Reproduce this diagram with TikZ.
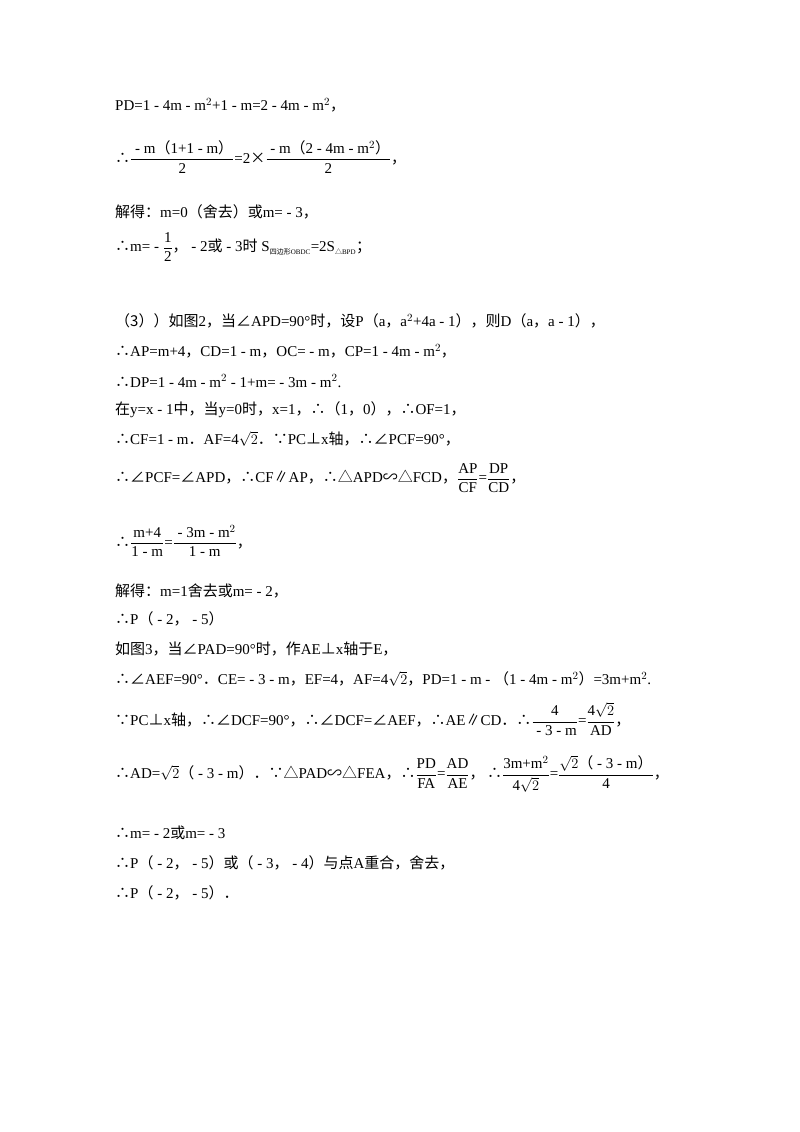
\documentclass[tikz,border=0pt]{standalone}
\usepackage{amsmath}
\usepackage{fontspec}
\setmainfont{Liberation Serif}
\newfontfamily\cjk{Noto Sans CJK SC}
\newcommand\zh[1]{{\cjk #1}}
\newcommand\sq{\ensuremath{\sqrt{2}}}
\begin{document}
\begin{tikzpicture}[x=1pt,y=-1pt,
  ln/.style={anchor=west,inner sep=0pt,font=\fontsize{15}{17}\selectfont}]
\useasboundingbox (0,0) rectangle (800,1132);
\node[ln] (l1) at (115,105) {PD=1 - 4m - m$^2$+1 - m=2 - 4m - m$^2$\zh{，}};
\node[ln] (l2) at (115,157) {\zh{∴}$\dfrac{\mbox{ - m\zh{（}1+1 - m\zh{）}}}{\mbox{2}}$=2\zh{×}$\dfrac{\mbox{ - m\zh{（}2 - 4m - m$^2$\zh{）}}}{\mbox{2}}$\zh{，}};
\node[ln] (l3) at (115,212) {\zh{解得：}m=0\zh{（舍去）或}m= - 3\zh{，}};
\node[ln] (l4) at (115,247) {\zh{∴}m= - $\dfrac{\mbox{1}}{\mbox{2}}$\zh{，} - 2\zh{或} - 3\zh{时} S$_{\mbox{\scriptsize\zh{四边形}OBDC}}$=2S$_{\mbox{\scriptsize\zh{△}BPD}}$\zh{；}};
\node[ln] (l5) at (115,321) {\zh{（3））如图}2\zh{，当∠}APD=90°\zh{时，设}P\zh{（}a\zh{，}a$^2$+4a - 1\zh{），则}D\zh{（}a\zh{，}a - 1\zh{），}};
\node[ln] (l6) at (115,351) {\zh{∴}AP=m+4\zh{，}CD=1 - m\zh{，}OC= - m\zh{，}CP=1 - 4m - m$^2$\zh{，}};
\node[ln] (l7) at (115,381) {\zh{∴}DP=1 - 4m - m$^2$ - 1+m= - 3m - m$^2$.};
\node[ln] (l8) at (115,410) {\zh{在}y=x - 1\zh{中，当}y=0\zh{时，}x=1\zh{，∴（}1\zh{，}0\zh{），∴}OF=1\zh{，}};
\node[ln] (l9) at (115,439) {\zh{∴}CF=1 - m\zh{．}AF=4\sq\zh{．∵}PC\zh{⊥}x\zh{轴，∴∠}PCF=90°\zh{，}};
\node[ln] (l10) at (115,478) {\zh{∴∠}PCF=\zh{∠}APD\zh{，∴}CF\zh{∥}AP\zh{，∴△}APD\zh{∽△}FCD\zh{，}$\dfrac{\mbox{AP}}{\mbox{CF}}$=$\dfrac{\mbox{DP}}{\mbox{CD}}$\zh{，}};
\node[ln] (l11) at (115,541) {\zh{∴}$\dfrac{\mbox{m+4}}{\mbox{1 - m}}$=$\dfrac{\mbox{ - 3m - m$^2$}}{\mbox{1 - m}}$\zh{，}};
\node[ln] (l12) at (115,591) {\zh{解得：}m=1\zh{舍去或}m= - 2\zh{，}};
\node[ln] (l13) at (115,619) {\zh{∴}P\zh{（} - 2\zh{，} - 5\zh{）}};
\node[ln] (l14) at (115,649) {\zh{如图}3\zh{，当∠}PAD=90°\zh{时，作}AE\zh{⊥}x\zh{轴于}E\zh{，}};
\node[ln] (l15) at (115,679) {\zh{∴∠}AEF=90°\zh{．}CE= - 3 - m\zh{，}EF=4\zh{，}AF=4\sq\zh{，}PD=1 - m - \zh{（}1 - 4m - m$^2$\zh{）}=3m+m$^2$.};
\node[ln] (l16) at (115,719) {\zh{∵}PC\zh{⊥}x\zh{轴，∴∠}DCF=90°\zh{，∴∠}DCF=\zh{∠}AEF\zh{，∴}AE\zh{∥}CD\zh{．∴}$\dfrac{\mbox{4}}{\mbox{ - 3 - m}}$=$\dfrac{\mbox{4\sq}}{\mbox{AD}}$\zh{，}};
\node[ln] (l17) at (115,774) {\zh{∴}AD=\sq\zh{（} - 3 - m\zh{）．∵△}PAD\zh{∽△}FEA\zh{，∴}$\dfrac{\mbox{PD}}{\mbox{FA}}$=$\dfrac{\mbox{AD}}{\mbox{AE}}$\zh{，}\,\zh{∴}$\dfrac{\mbox{3m+m$^2$}}{\mbox{4\sq}}$=$\dfrac{\mbox{\sq\zh{（} - 3 - m\zh{）}}}{\mbox{4}}$\zh{，}};
\node[ln] (l18) at (115,833) {\zh{∴}m= - 2\zh{或}m= - 3};
\node[ln] (l19) at (115,863) {\zh{∴}P\zh{（} - 2\zh{，} - 5\zh{）或（} - 3\zh{，} - 4\zh{）与点}A\zh{重合，舍去，}};
\node[ln] (l20) at (115,893) {\zh{∴}P\zh{（} - 2\zh{，} - 5\zh{）．}};
\end{tikzpicture}
\end{document}
